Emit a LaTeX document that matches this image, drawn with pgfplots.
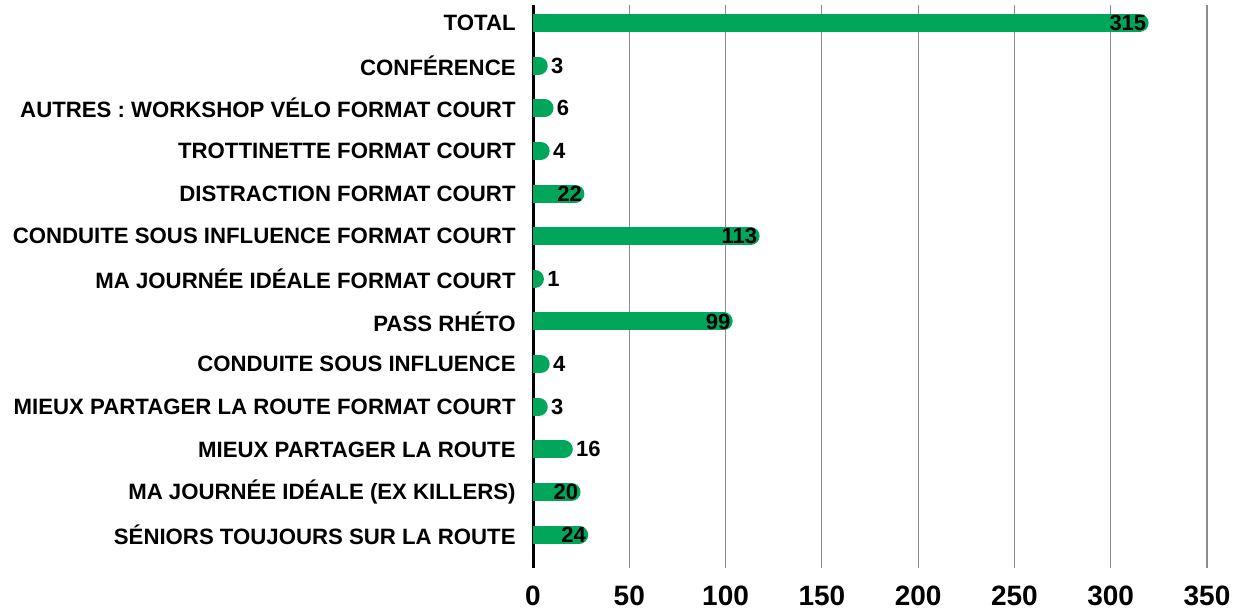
\documentclass[border=0pt]{standalone}
\usepackage{pgfplots}
\pgfplotsset{compat=1.18}
\usepackage{pgfplotstable}
\usepackage{fontspec}
\setmainfont{Liberation Sans}
\definecolor{bargreen}{HTML}{00A65A}
\definecolor{gridgray}{HTML}{8C8C8C}

\pgfplotsset{
  layers/mylayers/.define layer set={axis background,axis grid,axis ticks,axis tick labels,pre main,main,axis lines,axis descriptions,axis foreground}{},
}

\pgfplotstableread{
k v
0 24
1 20
2 16
3 3
4 4
5 99
6 1
7 113
8 22
9 4
10 6
11 3
12 315
}\data

\begin{document}
\begin{tikzpicture}
\begin{axis}[
  name=ax,
  set layers=mylayers,
  scale only axis, width=337pt, height=281.5pt,
  xmin=0, xmax=350, ymin=-0.78, ymax=12.42,
  separate axis lines,
  axis x line*=bottom, axis y line*=left,
  x axis line style={draw=none},
  y axis line style={draw=black, line width=1.5pt, -},
  xtick={0,50,...,350},
  xmajorgrids, grid style={gridgray, line width=0.6pt},
  major tick length=0pt,
  ytick={0,...,12},
  yticklabels={SÉNIORS TOUJOURS SUR LA ROUTE, MA JOURNÉE IDÉALE (EX KILLERS), MIEUX PARTAGER LA ROUTE, MIEUX PARTAGER LA ROUTE FORMAT COURT, CONDUITE SOUS INFLUENCE, PASS RHÉTO, MA JOURNÉE IDÉALE FORMAT COURT, CONDUITE SOUS INFLUENCE FORMAT COURT, DISTRACTION FORMAT COURT, TROTTINETTE FORMAT COURT, AUTRES : WORKSHOP VÉLO FORMAT COURT, CONFÉRENCE, TOTAL},
  yticklabel style={font=\bfseries\fontsize{11.1}{12}\selectfont, inner sep=0pt, xshift=-8.5pt, anchor=east},
  xticklabel style={font=\bfseries\fontsize{14}{15}\selectfont, inner sep=0pt, yshift=-9pt, anchor=north},
  /pgf/number format/assume math mode=true,
  nodes near coords={\pgfmathprintnumber{\pgfplotspointmeta}},
  every node near coord/.append style={text=black, inner sep=0pt,
    font=\bfseries\fontsize{11}{12}\selectfont},
]
\addplot[xcomb, draw=bargreen, line width=9pt, line cap=round, nodes near coords={}] table[x=v, y=k] {\data};
\addplot[only marks, mark=none, point meta=x, restrict x to domain=19:400,
  every node near coord/.append style={anchor=east, xshift=3.5pt}] table[x=v, y=k] {\data};
\addplot[only marks, mark=none, point meta=x, restrict x to domain=0:18,
  every node near coord/.append style={anchor=west, xshift=6pt}] table[x=v, y=k] {\data};
\end{axis}
\pgfresetboundingbox
\path ([xshift=-266.5pt, yshift=-22pt]ax.south west) rectangle ([xshift=19pt, yshift=2.5pt]ax.north east);
\end{tikzpicture}
\end{document}
